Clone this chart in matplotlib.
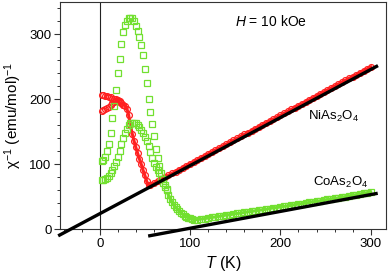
import matplotlib
matplotlib.use("Agg")
import matplotlib.pyplot as plt
from matplotlib.ticker import MultipleLocator

plt.rcParams['font.family'] = ['Liberation Sans', 'DejaVu Sans']
plt.rcParams['mathtext.fontset'] = 'custom'
plt.rcParams['mathtext.rm'] = 'Liberation Sans'
plt.rcParams['mathtext.it'] = 'Liberation Sans:italic'

# NiAs2O4 (red circles): two low-T branches, then common part
ni_T_a = [2, 4, 6, 8, 10, 12, 14, 16, 18, 20, 22, 24, 26]
ni_y_a = [207, 207, 206, 205, 204, 203, 201, 200, 200, 199, 197, 195, 192]
ni_T_b = [2, 4, 6, 8, 10, 12, 14, 16, 18, 20, 22, 24, 26]
ni_y_b = [182, 183, 185, 187, 189, 192, 194, 196, 197, 197, 196, 194, 191]
ni_T_c = [28, 30, 32, 34, 36, 38, 40, 42, 44, 46, 48, 50, 52, 54,
          56, 60, 64, 68, 72, 76, 80, 84, 88, 92, 96, 100, 104, 108, 112, 116,
          120, 124, 128, 132, 136, 140, 144, 148, 152, 156, 160, 164, 168, 172,
          176, 180, 184, 188, 192, 196, 200, 204, 208, 212, 216, 220, 224, 228,
          232, 236, 240, 244, 248, 252, 256, 260, 264, 268, 272, 276, 280, 284,
          288, 292, 296, 300]
ni_y_c = [190, 186, 176, 160, 147, 136, 126, 117, 108, 100, 91, 83, 74, 68,
          68, 71, 74, 77, 80, 83, 86, 89, 92, 95, 98, 101, 104, 107, 110, 113,
          116, 119, 122, 125, 128, 131, 134, 137, 140, 143, 146, 149, 152, 155,
          158, 161, 164, 167, 169.5, 172.5, 175.5, 178.5, 181.5, 184.5, 187.5, 190.5, 193.5, 196.5,
          199.5, 202.5, 205.5, 208.5, 211.5, 214.5, 217.5, 220.5, 223.5, 226.5, 229.5, 232.5, 235, 238,
          241, 244, 247, 250]

# CoAs2O4 (green squares): two low-T branches, then common part
co_T_u = [2, 4, 6, 8, 10, 12, 14, 16, 18, 20, 22, 24, 26, 28, 30, 32, 34, 36,
          38, 40, 42, 44, 46, 48, 50, 52, 54, 56, 58, 60, 62, 64, 66, 68, 70, 72, 74]
co_y_u = [105, 107, 112, 120, 131, 148, 172, 190, 215, 240, 262, 285, 303, 314, 321, 325, 326, 325,
          320, 313, 306, 296, 284, 268, 247, 225, 200, 180, 162, 143, 124, 110, 97, 86, 77, 68, 62]
co_T_l = [2, 4, 6, 8, 10, 12, 14, 16, 18, 20, 22, 24, 26, 28, 30, 32, 34, 36,
          38, 40, 42, 44, 46, 48, 50, 52, 54, 56, 58, 60, 62, 64, 66, 68, 70, 72, 74]
co_y_l = [76, 76, 77, 79, 82, 86, 91, 97, 104, 112, 121, 131, 140, 148, 155, 160, 163, 164,
          164, 163, 160, 157, 153, 148, 142, 136, 128, 119, 110, 102, 96, 91, 86, 78, 71, 65, 60]
co_T_c = [76, 78, 80, 82, 84, 86, 88, 90, 92, 94, 96, 98, 100, 102,
          104, 108, 112, 116, 120, 124, 128, 132, 136, 140, 144, 148, 152, 156,
          160, 164, 168, 172, 176, 180, 184, 188, 192, 196, 200, 204, 208, 212,
          216, 220, 224, 228, 232, 236, 240, 244, 248, 252, 256, 260, 264, 268,
          272, 276, 280, 284, 288, 292, 296, 300]
co_y_c = [53, 47, 42, 38, 34, 31, 28, 25, 23, 21, 19, 18, 17, 16,
          15, 15, 16, 16.5, 17.5, 18.5, 19, 20, 21, 22, 22.5, 23.5, 24.5, 25,
          26, 27, 27.5, 28.5, 29.5, 30, 31, 32, 33, 33.5, 34.5, 35.5, 36, 37,
          38, 39, 39.5, 40.5, 41.5, 42.5, 43, 44, 45, 46, 47, 47.5, 48.5, 49.5,
          50.5, 51.5, 52.5, 53.5, 54.5, 55.5, 56.5, 57.5]

# Curie-Weiss fit lines (end points)
ni_fit_T = [-46, 308]
ni_fit_y = [-10, 252]
co_fit_T = [53.6, 307.7]
co_fit_y = [-10.3, 55.5]

red = '#ff2020'
green = '#72e030'

fig = plt.figure(figsize=(3.92, 2.78), dpi=100)
ax = fig.add_axes([0.153, 0.175, 0.832, 0.818])

mk_r = dict(marker='o', ms=4.2, mfc='none', mec=red, mew=0.9)
mk_g = dict(marker='s', ms=3.8, mfc='none', mec=green, mew=0.9)

ax.axvline(0, color='#222222', lw=0.8, zorder=1)
ax.plot(ni_T_a, ni_y_a, ls='none', **mk_r, zorder=2)
ax.plot(ni_T_b, ni_y_b, ls='none', **mk_r, zorder=2)
ax.plot(ni_T_c, ni_y_c, ls='-', color=red, lw=2.2, **mk_r, zorder=2)
ax.plot(co_T_u, co_y_u, ls='none', **mk_g, zorder=3)
ax.plot(co_T_l, co_y_l, ls='none', **mk_g, zorder=3)
ax.plot(co_T_c, co_y_c, ls='-', color=green, lw=2.2, **mk_g, zorder=3)
ax.plot(ni_fit_T, ni_fit_y, color='black', lw=2.4, solid_capstyle='butt', clip_on=False, zorder=4)
ax.plot(co_fit_T, co_fit_y, color='black', lw=2.4, solid_capstyle='butt', clip_on=False, zorder=4)

ax.set_xlim(-44, 317)
ax.set_ylim(0, 350)
ax.xaxis.set_major_locator(MultipleLocator(100))
ax.xaxis.set_minor_locator(MultipleLocator(20))
ax.yaxis.set_major_locator(MultipleLocator(100))
ax.yaxis.set_minor_locator(MultipleLocator(20))
ax.tick_params(which='both', direction='out', top=False, right=False, labelsize=9.5, color='#333333')
ax.tick_params(which='major', length=4, width=0.8, pad=2)
ax.tick_params(which='minor', length=2.5, width=0.7)
for s in ax.spines.values():
    s.set_linewidth(0.8)
    s.set_color('#333333')

ax.set_xlabel(r'$T$ (K)', fontsize=11.5, labelpad=3)
ax.set_ylabel(r'χ$^{-1}$ (emu/mol)$^{-1}$', fontsize=11, labelpad=4)

ax.text(150, 313, r'$H$ = 10 kOe', fontsize=10, ha='left', va='baseline')
ax.text(231, 168, r'NiAs$_2$O$_4$', fontsize=9.5, ha='left', va='baseline')
ax.text(236, 67, r'CoAs$_2$O$_4$', fontsize=9.5, ha='left', va='baseline')

fig.savefig('out.png', dpi=100)
